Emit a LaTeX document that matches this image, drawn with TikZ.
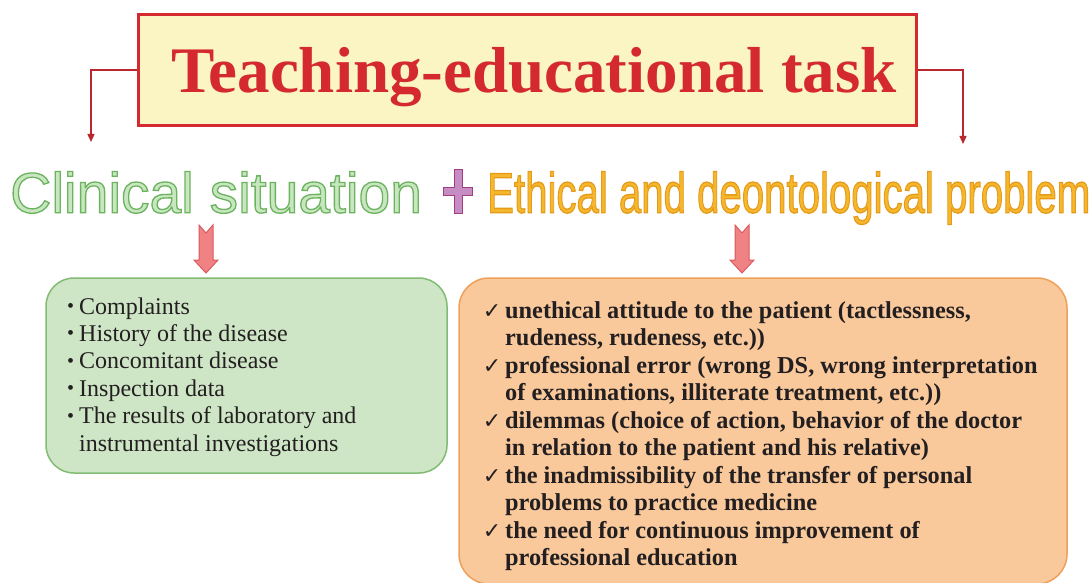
\documentclass[tikz,border=0pt]{standalone}
\usepackage{fontspec}
\setmainfont{Liberation Serif}
\newfontfamily\headsans{Liberation Sans}
\newfontfamily\checkfont{DejaVu Sans}
\usetikzlibrary{arrows.meta,calc}

\definecolor{titlered}{HTML}{D42A2F}
\definecolor{titlefill}{HTML}{FAF5C2}
\definecolor{connred}{HTML}{B8282E}
\definecolor{clinfill}{HTML}{C8E6C0}
\definecolor{ethfill}{HTML}{F5B72C}
\definecolor{plusfill}{HTML}{C68DC4}
\definecolor{plusline}{HTML}{A23E7E}
\definecolor{arrfill}{HTML}{F08284}
\definecolor{arrline}{HTML}{DC5A5E}
\definecolor{greenfill}{HTML}{CEE6C6}
\definecolor{greenline}{HTML}{82BC74}
\definecolor{orangefill}{HTML}{F9C99C}
\definecolor{orangeline}{HTML}{EFA059}
\definecolor{textdark}{HTML}{231F20}

% outlined text: fill colour from \color, stroke set by a PDF literal
\newcommand{\outlinetext}[3]{{\color{#1}\special{pdf:literal direct #2 RG 1.3 w 2 Tr}#3\special{pdf:literal direct 0 Tr}}}
\newcommand{\gbul}{\llap{\raisebox{1.5pt}{\fontsize{20}{20}\selectfont\textbullet}\hspace{5pt}}}
\newcommand{\ochk}{\llap{{\checkfont\fontsize{22}{22}\selectfont ✓}\hspace{4pt}}}

\tikzset{
  titlebox/.style={draw=titlered, line width=3pt, fill=titlefill, inner sep=0pt},
  conn/.style={draw=connred, line width=1.3pt, -{Triangle[length=8pt,width=7pt]}},
  greenbox/.style={draw=greenline, line width=1.5pt, fill=greenfill, rounded corners=28pt, inner sep=0pt},
  orangebox/.style={draw=orangeline, line width=1.5pt, fill=orangefill, rounded corners=30pt, inner sep=0pt},
  gtext/.style={anchor=base west, inner sep=0pt, text=textdark, font=\fontsize{24}{27}\selectfont},
  otext/.style={anchor=base west, inner sep=0pt, text=textdark, font=\bfseries\fontsize{24.3}{27}\selectfont},
  arrowshape/.style={draw=arrline, line width=1pt, fill=arrfill, line join=miter},
  blockarrow/.pic={\draw[arrowshape] (-7,0) -- (0,8) -- (7,0) -- (7,35) -- (12,35) -- (0,48) -- (-12,35) -- (-7,35) -- cycle;}
}

\begin{document}
\begin{tikzpicture}[x=1pt,y=-1pt]
\path[use as bounding box, fill=white] (0,0) rectangle (1092,583);

% title
\node[titlebox, minimum width=778pt, minimum height=111pt] (title) at (527.5,70) {};
\node[anchor=base, inner sep=0pt, text=titlered, font=\bfseries\fontsize{65}{70}\selectfont] (titletext) at (534,92.7) {Teaching-educational task};

% headings
\node[anchor=base west, inner sep=0pt] (clinical) at (10,212.7)
  {\headsans\fontsize{57}{60}\selectfont\outlinetext{clinfill}{0.424 0.702 0.373}{Clinical situation}};
\node[anchor=base west, inner sep=0pt] (ethical) at (487,212.7)
  {\scalebox{0.705}[1]{\headsans\fontsize{57}{60}\selectfont\outlinetext{ethfill}{0.898 0.604 0.102}{Ethical and deontological problem}}};

% plus sign
\coordinate (plus) at (458,191);
\draw[draw=plusline, line width=1pt, fill=plusfill]
  ($(plus)+(-14.5,-4)$) -- ($(plus)+(-4,-4)$) -- ($(plus)+(-4,-22)$) -- ($(plus)+(4,-22)$) -- ($(plus)+(4,-4)$) -- ($(plus)+(14.5,-4)$)
  -- ($(plus)+(14.5,4)$) -- ($(plus)+(4,4)$) -- ($(plus)+(4,22)$) -- ($(plus)+(-4,22)$) -- ($(plus)+(-4,4)$) -- ($(plus)+(-14.5,4)$) -- cycle;

% connectors from title
\coordinate (lefttip) at (91,142);
\coordinate (righttip) at (963,144);
\draw[conn] (title.west) -| (lefttip);
\draw[conn] (title.east) -| (righttip);

% boxes
\node[greenbox, minimum width=401pt, minimum height=195pt] (greenbox) at (246.5,375.5) {};
\node[orangebox, minimum width=608pt, minimum height=306pt] (orangebox) at (763,431) {};

% block arrows
\coordinate (arrL) at (206,225);
\coordinate (arrR) at (742,225);
\pic at (arrL) {blockarrow};
\pic at (arrR) {blockarrow};

% green texts
\node[gtext] (g1) at (79,314) {\gbul Complaints};
\node[gtext] (g2) at (79,341.4) {\gbul History of the disease};
\node[gtext] (g3) at (79,368.8) {\gbul Concomitant disease};
\node[gtext] (g4) at (79,396.2) {\gbul Inspection data};
\node[gtext] (g5) at (79,423.6) {\gbul The results of laboratory and};
\node[gtext] (g6) at (79,451) {instrumental investigations};

% orange texts
\node[otext] (o1) at (505,318) {\ochk unethical attitude to the patient (tactlessness,};
\node[otext] (o2) at (505,345.5) {rudeness, rudeness, etc.))};
\node[otext] (o3) at (505,373) {\ochk professional error (wrong DS, wrong interpretation};
\node[otext] (o4) at (505,400.5) {of examinations, illiterate treatment, etc.))};
\node[otext] (o5) at (505,428) {\ochk dilemmas (choice of action, behavior of the doctor};
\node[otext] (o6) at (505,455.5) {in relation to the patient and his relative)};
\node[otext] (o7) at (505,483) {\ochk the inadmissibility of the transfer of personal};
\node[otext] (o8) at (505,510.5) {problems to practice medicine};
\node[otext] (o9) at (505,538) {\ochk the need for continuous improvement of};
\node[otext] (o10) at (505,565.5) {professional education};
\end{tikzpicture}
\end{document}
